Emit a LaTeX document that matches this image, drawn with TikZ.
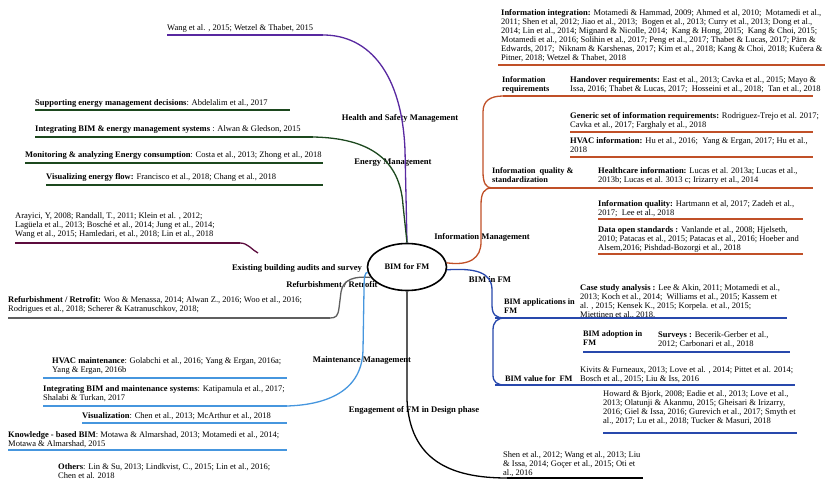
\documentclass[tikz,border=0pt]{standalone}
\usepackage{fontspec}
\setmainfont{Liberation Serif}
\usetikzlibrary{shapes.geometric}
\definecolor{cpurple}{RGB}{88,40,160}
\definecolor{cgreen}{RGB}{28,72,30}
\definecolor{cmaroon}{RGB}{92,12,62}
\definecolor{cgray}{RGB}{95,95,95}
\definecolor{clblue}{RGB}{70,150,222}
\definecolor{corange}{RGB}{192,80,40}
\definecolor{cblue}{RGB}{40,72,172}
\begin{document}
\begin{tikzpicture}[x=1pt,y=-1pt,
  ref/.style={anchor=north west, inner sep=0pt, align=left, font=\fontsize{8.5}{9}\selectfont},
  sub/.style={anchor=north west, inner sep=0pt, align=left, font=\fontsize{8.3}{9}\selectfont\bfseries},
  lab/.style={inner sep=0pt, font=\fontsize{8.6}{9}\selectfont\bfseries},
  uline/.style={line width=2.3pt},
  conn/.style={line width=1.3pt}]
\useasboundingbox (0,0) rectangle (825,479);

% root
\node[draw, ellipse, line width=1.6pt, minimum width=79pt, minimum height=47pt, font=\fontsize{8.4}{9}\selectfont\bfseries] (root) at (407,267) {BIM for FM};

% branch labels
\node[lab] (hs) at (400,118) {Health and Safety Management};
\node[lab] (em) at (393,163) {Energy Management};
\node[lab] (eb) at (297,268) {Existing building audits and survey};
\node[lab] (rr) at (332,285) {Refurbishment / Retrofit};
\node[lab] (mm) at (362,360) {Maintenance Management};
\node[lab] (ed) at (414,410) {Engagement of FM in Design phase};
\node[lab] (im) at (482,237) {Information Management};
\node[lab] (bf) at (490,280) {BIM in FM};

% ---------- left texts ----------
\node[ref] (wang) at (167,24) {Wang et al. , 2015; Wetzel \& Thabet, 2015};
\node[ref] (supp) at (35,99) {\textbf{Supporting energy management decisions}: Abdelalim et al., 2017};
\node[ref] (inte) at (35,125) {\textbf{Integrating BIM \& energy management systems} : Alwan \& Gledson, 2015};
\node[ref] (moni) at (25,151) {\textbf{Monitoring \& analyzing Energy consumption}: Costa et al., 2013; Zhong et al., 2018};
\node[ref] (visu) at (46,173) {\textbf{Visualizing energy flow:} Francisco et al., 2018; Chang et al., 2018};
\node[ref] (aray) at (15,212) {Arayici, Y, 2008; Randall, T., 2011; Klein et al. , 2012;\\Lagüela et al., 2013; Bosché et al., 2014; Jung et al., 2014;\\Wang et al., 2015; Hamledari, et al., 2018; Lin et al., 2018};
\node[ref] (refu) at (8,296) {\textbf{Refurbishment / Retrofit:} Woo \& Menassa, 2014; Alwan Z., 2016; Woo et al., 2016;\\Rodrigues et al., 2018; Scherer \& Katranuschkov, 2018;};
\node[ref] (hvacm) at (52,357) {\textbf{HVAC maintenance}: Golabchi et al., 2016; Yang \& Ergan, 2016a;\\Yang \& Ergan, 2016b};
\node[ref] (intm) at (43,385) {\textbf{Integrating BIM and maintenance systems}: Katipamula et al., 2017;\\Shalabi \& Turkan, 2017};
\node[ref] (vism) at (82,412) {\textbf{Visualization}: Chen et al., 2013; McArthur et al., 2018};
\node[ref] (know) at (8,431) {\textbf{Knowledge - based BIM}: Motawa \& Almarshad, 2013; Motamedi et al., 2014;\\Motawa \& Almarshad, 2015};
\node[ref] (othe) at (58,463) {\textbf{Others}: Lin \& Su, 2013; Lindkvist, C., 2015; Lin et al., 2016;\\Chen et al. 2018};

% ---------- right texts ----------
\node[ref] (infint) at (501,9.5) {\textbf{Information integration:} Motamedi \& Hammad, 2009; Ahmed et al, 2010;~ Motamedi et al.,\\2011; Shen et al, 2012; Jiao et al., 2013;~ Bogen et al., 2013; Curry et al., 2013; Dong et al.,\\2014; Lin et al., 2014; Mignard \& Nicolle, 2014;~ Kang \& Hong, 2015;~ Kang \& Choi, 2015;\\Motamedi et al., 2016; Solihin et al., 2017; Peng et al., 2017; Thabet \& Lucas, 2017; Pärn \&\\Edwards, 2017;~ Niknam \& Karshenas, 2017; Kim et al., 2018; Kang \& Choi, 2018; Kučera \&\\Pitner, 2018; Wetzel \& Thabet, 2018};
\node[sub] (inreq) at (502,76) {Information\\requirements};
\node[ref] (hand) at (570,76) {\textbf{Handover requirements:} East et al., 2013; Cavka et al., 2015; Mayo \&\\Issa, 2016; Thabet \& Lucas, 2017;~ Hosseini et al., 2018;~ Tan et al., 2018};
\node[ref] (gene) at (570,112) {\textbf{Generic set of information requirements:} Rodriguez-Trejo et al. 2017;\\Cavka et al., 2017; Farghaly et al., 2018};
\node[ref] (hvaci) at (570,137) {\textbf{HVAC information:} Hu et al., 2016;~ Yang \& Ergan, 2017; Hu et al.,\\2018};
\node[sub] (iqs) at (492,167) {Information~ quality \&\\standardization};
\node[ref] (heal) at (598,167) {\textbf{Healthcare information:} Lucas et al. 2013a; Lucas et al.,\\2013b; Lucas et al. 3013 c; Irizarry et al., 2014};
\node[ref] (iqual) at (598,200) {\textbf{Information quality:} Hartmann et al, 2017; Zadeh et al.,\\2017;~ Lee et al., 2018};
\node[ref] (dopen) at (598,226) {\textbf{Data open standards :} Vanlande et al., 2008; Hjelseth,\\2010; Patacas et al., 2015; Patacas et al., 2016; Hoeber and\\Alsem,2016; Pishdad-Bozorgi et al., 2018};
\node[ref] (case) at (580,284) {\textbf{Case study analysis :} Lee \& Akin, 2011; Motamedi et al.,\\2013; Koch et al., 2014;~ Williams et al., 2015; Kassem et\\al. , 2015; Kensek K., 2015; Korpela. et al., 2015;\\Miettinen et al., 2018,};
\node[sub] (bapp) at (504,299) {BIM applications in\\FM};
\node[sub] (badop) at (583,331) {BIM adoption in\\FM};
\node[ref] (surv) at (658,331) {\textbf{Surveys :} Becerik-Gerber et al.,\\2012; Carbonari et al., 2018};
\node[sub] (bval) at (505,375) {BIM value for~ FM};
\node[ref] (kiv) at (580,366) {Kivits \& Furneaux, 2013; Love et al. , 2014; Pittet et al. 2014;\\Bosch et al., 2015; Liu \& Iss, 2016};
\node[ref] (how) at (603,390) {Howard \& Bjork, 2008; Eadie et al., 2013; Love et al.,\\2013; Olatunji \& Akanmu, 2015; Gheisari \& Irizarry,\\2016; Giel \& Issa, 2016; Gurevich et al., 2017; Smyth et\\al., 2017; Lu et al., 2018; Tucker \& Masuri, 2018};
\node[ref] (shen) at (503,451) {Shen et al., 2012; Wang et al., 2013; Liu\\\& Issa, 2014; Goçer et al., 2015; Oti et\\al., 2016};

% ---------- coordinates ----------
\coordinate (pU) at (323,35);
\coordinate (gU) at (313,137);
\coordinate (mU) at (240,243);
\coordinate (mE) at (258,253);
\coordinate (rU) at (330,318);
\coordinate (lU) at (287,406);
\coordinate (kU) at (507,478);
\coordinate (oA) at (492,188);
\coordinate (oB) at (503,96);
\coordinate (bA) at (505,318);
\coordinate (bB) at (505,385);

% ---------- underlines ----------
\draw[uline,cpurple] (167,35) -- (pU);
\draw[uline,cgreen] (35,110) -- (290,110);
\draw[uline,cgreen] (35,137) -- (gU);
\draw[uline,cgreen] (25,163) -- (323,163);
\draw[uline,cgreen] (46,185) -- (323,185);
\draw[uline,cmaroon] (15,243) -- (mU);
\draw[uline,cgray] (8,318) -- (rU);
\draw[uline,clblue] (43,378) -- (287,378);
\draw[uline,clblue] (43,406) -- (lU);
\draw[uline,clblue] (82,423) -- (287,423);
\draw[uline,clblue] (8,450) -- (287,450);
\draw[uline] (kU) -- (643,478);
\draw[uline,corange] (498,65) -- (825,65);
\draw[uline,corange] (oB) -- (813,96);
\draw[uline,corange] (570,132) -- (813,132);
\draw[uline,corange] (570,157) -- (813,157);
\draw[uline,corange] (488,188) -- (813,188);
\draw[uline,corange] (598,219) -- (803,219);
\draw[uline,corange] (598,254) -- (803,254);
\draw[uline,cblue] (495,318) -- (787,318);
\draw[uline,cblue] (583,352) -- (790,352);
\draw[uline,cblue] (495,385) -- (795,385);
\draw[uline,cblue] (603,433) -- (797,433);

% ---------- connectors ----------
\draw[conn,cpurple] (root.north) -- (405,150) .. controls (402,75) and (370,35) .. (pU);
\draw[conn,cgreen] (root.north) -- (403,205) .. controls (400,160) and (370,138) .. (gU);
\draw[conn,cmaroon] (mU) .. controls (248,243) and (252,250) .. (mE);
\draw[conn,cgray] (root.196) .. controls (355,276) and (343,279) .. (341,292) -- (339,308) .. controls (338,316) and (336,318) .. (rU);
\draw[conn,clblue] (root.188) .. controls (365,272) and (364,276) .. (364,290) -- (363,350) .. controls (362,395) and (320,405) .. (lU);
\draw[conn] (root.south) -- (407,400) .. controls (410,460) and (450,478) .. (kU);
\draw[conn,corange] (root.6) .. controls (470,266) and (481,258) .. (481,242) -- (481,205) .. controls (481,193) and (484,188) .. (oA);
\draw[conn,corange] (oA) .. controls (486,188) and (483,183) .. (483,172) -- (483,112) .. controls (483,101) and (490,96) .. (oB);
\draw[conn,cblue] (root.-4) .. controls (475,268) and (492,272) .. (492,290) -- (492,305) .. controls (492,315) and (496,318) .. (bA);
\draw[conn,cblue] (bA) .. controls (497,318) and (493,322) .. (493,330) -- (493,375) .. controls (493,382) and (497,385) .. (bB);
\end{tikzpicture}
\end{document}
